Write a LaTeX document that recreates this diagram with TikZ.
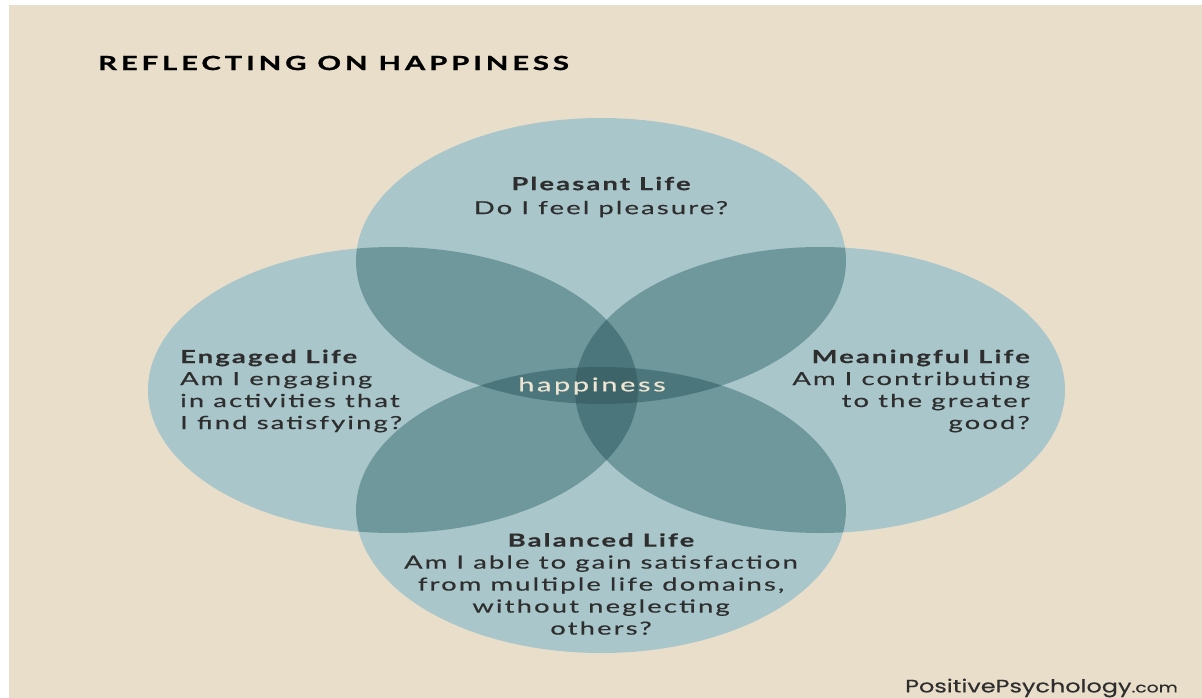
\documentclass[tikz,border=0pt]{standalone}
\usepackage{fontspec}
\setmainfont{Lato}
\newfontfamily\poppins[FakeStretch=1.33,FakeBold=0.3]{Poppins}
\newfontfamily\wide[FakeStretch=1.52,LetterSpace=12,FakeBold=0.4]{Lato}
\newfontfamily\widetitle[FakeStretch=1.5,LetterSpace=20,FakeBold=1.2]{Lato}
\definecolor{bg}{HTML}{E9DECA}
\definecolor{cone}{HTML}{A9C6CB}
\definecolor{ctwo}{HTML}{6F989D}
\definecolor{cthree}{HTML}{4B777C}
\definecolor{cfour}{HTML}{3D6569}
\definecolor{txt}{HTML}{2E2E2E}
\definecolor{hap}{HTML}{EDE4D2}
\newcommand\ellT{(601,261) ellipse [x radius=245pt, y radius=143pt]}
\newcommand\ellB{(601,510) ellipse [x radius=245pt, y radius=143pt]}
\newcommand\ellL{(393,390) ellipse [x radius=245pt, y radius=143pt]}
\newcommand\ellR{(820,390) ellipse [x radius=245pt, y radius=143pt]}
\tikzset{
  body/.style={text=txt, font=\wide\fontsize{18}{22}\selectfont, inner sep=0pt},
}
\begin{document}
\begin{tikzpicture}[x=1pt,y=-1pt]
\useasboundingbox (0,0) rectangle (1202,698);
\fill[white] (0,0) rectangle (1202,698);
\fill[bg] (9,5) rectangle (1202,698);
% single
\fill[cone] \ellT; \fill[cone] \ellB; \fill[cone] \ellL; \fill[cone] \ellR;
% pairs
\begin{scope}\clip \ellT; \fill[ctwo] \ellL; \end{scope}
\begin{scope}\clip \ellT; \fill[ctwo] \ellR; \end{scope}
\begin{scope}\clip \ellB; \fill[ctwo] \ellL; \end{scope}
\begin{scope}\clip \ellB; \fill[ctwo] \ellR; \end{scope}
\begin{scope}\clip \ellT; \fill[ctwo] \ellB; \end{scope}
\begin{scope}\clip \ellL; \fill[ctwo] \ellR; \end{scope}
% triples
\begin{scope}\clip \ellT; \clip \ellB; \fill[cthree] \ellL; \end{scope}
\begin{scope}\clip \ellT; \clip \ellB; \fill[cthree] \ellR; \end{scope}
\begin{scope}\clip \ellL; \clip \ellR; \fill[cthree] \ellT; \end{scope}
\begin{scope}\clip \ellL; \clip \ellR; \fill[cthree] \ellB; \end{scope}
% quadruple
\begin{scope}\clip \ellT; \clip \ellB; \clip \ellL; \fill[cfour] \ellR; \end{scope}

\node[anchor=west, text=black, inner sep=0pt, font=\widetitle\fontsize{19.5}{22}\selectfont\bfseries] (title) at (98,63) {REFLECTING ON HAPPINESS};

\node[body, align=center] (pleasant) at (601,197) {{\bfseries Pleasant Life}\\[2pt]Do I feel pleasure?};
\node[body, align=left, anchor=west] (engaged) at (180,391) {{\bfseries Engaged Life}\\Am I engaging\\in activities that\\I find satisfying?};
\node[body, align=right, anchor=east] (meaningful) at (1030,391) {{\bfseries Meaningful Life}\\Am I contributing\\to the greater\\good?};
\node[body, align=center] (balanced) at (601,584) {{\bfseries Balanced Life}\\Am I able to gain satisfaction\\from multiple life domains,\\without neglecting\\others?};
\node[body, text=hap, font=\wide\fontsize{19}{22}\selectfont\addfontfeature{LetterSpace=14}] (happy) at (592,386) {happiness};

\node[anchor=east, text=txt, inner sep=0pt, font=\poppins\fontsize{18}{20}\selectfont] (brand) at (1178,688) {PositivePsychology{\fontsize{14}{16}\selectfont.com}};
\end{tikzpicture}
\end{document}
